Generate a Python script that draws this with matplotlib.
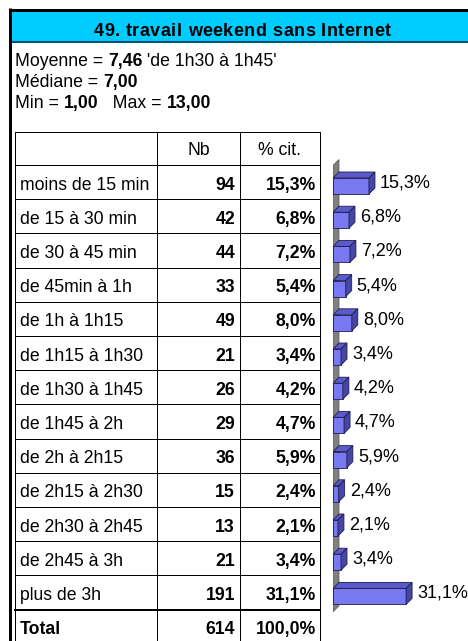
import matplotlib
matplotlib.use('Agg')
import matplotlib.pyplot as plt
from matplotlib.patches import Rectangle, Polygon

plt.rcParams['font.family'] = ['Liberation Sans', 'DejaVu Sans']

title = '49. travail weekend sans Internet'
categories = ['moins de 15 min', 'de 15 à 30 min', 'de 30 à 45 min', 'de 45min à 1h',
              'de 1h à 1h15', 'de 1h15 à 1h30', 'de 1h30 à 1h45', 'de 1h45 à 2h',
              'de 2h à 2h15', 'de 2h15 à 2h30', 'de 2h30 à 2h45', 'de 2h45 à 3h',
              'plus de 3h']
counts = [94, 42, 44, 33, 49, 21, 26, 29, 36, 15, 13, 21, 191]
percents = [15.3, 6.8, 7.2, 5.4, 8.0, 3.4, 4.2, 4.7, 5.9, 2.4, 2.1, 3.4, 31.1]
total_count = 614
total_percent = 100.0
mean_value = 7.46
mean_label = 'de 1h30 à 1h45'
median_value = 7.00
min_value = 1.00
max_value = 13.00

W, H = 468, 641
FS = 12.7


def fr(v, dec=2):
    return f'{v:.{dec}f}'.replace('.', ',')


def pct(v):
    return fr(v, 1) + '%'


fig = plt.figure(figsize=(W / 100, H / 100), dpi=100)
fig.patch.set_facecolor('white')

# background axes in pixel units for the frame and the table
bg = fig.add_axes([0, 0, 1, 1])
bg.set_xlim(0, W)
bg.set_ylim(H, 0)
bg.axis('off')

px = 0.72  # one pixel in points
renderer = fig.canvas.get_renderer()


def width_of(t):
    bb = t.get_window_extent(renderer)
    return bb.x1 - bb.x0


def runs(x, y, parts, fs=FS):
    # draws pieces of text one after another, each with its own weight
    for s, w in parts:
        t = bg.text(x, y, s, ha='left', va='baseline', fontsize=fs, fontweight=w)
        x += width_of(t)


def spaced(xc, y, s, fs, weight, gap):
    # centred text with a little extra room between letters
    chars = [bg.text(0, y, c, ha='left', va='baseline', fontsize=fs, fontweight=weight)
             for c in s]
    widths = [width_of(t) for t in chars]
    total = sum(widths) + gap * (len(s) - 1)
    x = xc - total / 2
    for t, w in zip(chars, widths):
        t.set_x(x)
        x += w + gap


# frame and title bar
bg.add_patch(Rectangle((11, 11), W - 11, 30, facecolor='#00CCFF', edgecolor='none'))
bg.plot([11, W], [41.5, 41.5], color='#00506E', lw=2 * px)
bg.plot([9.5, W], [9.5, 9.5], color='black', lw=3 * px, solid_capstyle='butt')
bg.plot([9.5, 9.5], [8, H], color='black', lw=3 * px, solid_capstyle='butt')
spaced(242, 35.5, title, 13, 'bold', 0.5)

runs(15, 66, [('Moyenne = ', 'normal'), (fr(mean_value), 'bold'),
              (f" '{mean_label}'", 'normal')])
runs(15, 87, [('Médiane = ', 'normal'), (fr(median_value), 'bold')])
runs(15, 108, [('Min = ', 'normal'), (fr(min_value), 'bold'),
               ('   Max = ', 'normal'), (fr(max_value), 'bold')])

# table grid
cols = [15, 157, 240, 320]
head_top, head_bot = 132, 165
row_h = 34.2
n = len(categories)
lw = 1 * px
bg.plot([cols[0], cols[-1]], [head_top, head_top], color='black', lw=lw)
for x in cols:
    bg.plot([x, x], [head_top, H], color='black', lw=lw)
for k in range(n + 1):
    y = head_bot + k * row_h
    bg.plot([cols[0], cols[-1]], [y, y], color='black', lw=2 * px if k == n else lw)

hc = (head_top + head_bot) / 2 + 6.5
bg.text((cols[1] + cols[2]) / 2, hc, 'Nb', ha='center', va='baseline', fontsize=FS)
bg.text((cols[2] + cols[3]) / 2, hc, '% cit.', ha='center', va='baseline', fontsize=FS)

labels = categories + ['Total']
nbs = counts + [total_count]
pcs = percents + [total_percent]
for k in range(n + 1):
    yb = head_bot + (k + 0.5) * row_h + 7.5
    bg.text(20, yb, labels[k], ha='left', va='baseline', fontsize=FS,
            fontweight='bold' if k == n else 'normal')
    bg.text(cols[2] - 5, yb, str(nbs[k]), ha='right', va='baseline', fontsize=FS,
            fontweight='bold')
    bg.text(cols[3] - 4, yb, pct(pcs[k]), ha='right', va='baseline', fontsize=FS,
            fontweight='bold')

# 3D bar chart
x0_px, x1_px = 333, W
top_px, bot_px = 150, 620
ax = fig.add_axes([x0_px / W, (H - bot_px) / H, (x1_px - x0_px) / W, (bot_px - top_px) / H])
ax.axis('off')
scale = 2.35  # pixels per percent
first_px = 186
ax.set_xlim(0, (x1_px - x0_px) / scale)
ax.set_ylim((bot_px - first_px) / row_h, (top_px - first_px) / row_h)

dx = 6 / scale
dy = 6 / row_h
bh = 16 / row_h

# gray side wall
w_top, w_bot = -0.6, n - 0.55
ax.add_patch(Polygon([(0, w_bot), (dx, w_bot - dy), (dx, w_top - dy), (0, w_top)],
                     closed=True, facecolor='#808080', edgecolor='#505050', lw=0.5))

front = '#7878F0'
top_c = '#5A5AC8'
side_c = '#4646A6'
edge = '#1E1E50'
bars = ax.barh(range(n), percents, height=bh, color=front, edgecolor=edge, lw=0.6, zorder=3)
for i, (b, v) in enumerate(zip(bars, percents)):
    y0 = b.get_y()
    y1 = y0 + b.get_height()
    ax.add_patch(Polygon([(0, y0), (v, y0), (v + dx, y0 - dy), (dx, y0 - dy)], closed=True,
                         facecolor=top_c, edgecolor=edge, lw=0.6, zorder=3))
    ax.add_patch(Polygon([(v, y0), (v + dx, y0 - dy), (v + dx, y1 - dy), (v, y1)], closed=True,
                         facecolor=side_c, edgecolor=edge, lw=0.6, zorder=3))
    ax.annotate(pct(v), (v + dx, i), xytext=(5 * px, -1.5 * px), textcoords='offset points',
                ha='left', va='baseline', fontsize=13, annotation_clip=False)

fig.savefig('out.png', dpi=100)
